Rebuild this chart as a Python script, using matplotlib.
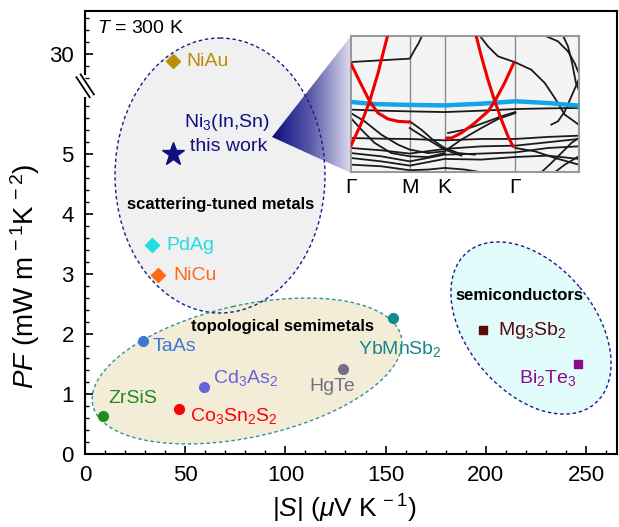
import numpy as np
import matplotlib
matplotlib.use('Agg')
import matplotlib.pyplot as plt
from matplotlib.patches import Ellipse, Polygon
from matplotlib.colors import LinearSegmentedColormap

plt.rcParams['font.family'] = 'Liberation Sans'
plt.rcParams['mathtext.fontset'] = 'custom'
plt.rcParams['mathtext.rm'] = 'Liberation Sans'
plt.rcParams['mathtext.it'] = 'Liberation Sans:italic'
plt.rcParams['mathtext.bf'] = 'Liberation Sans:bold'

# power factor vs |S| at 300 K
materials = ['NiAu', 'Ni$_3$(In,Sn)', 'PdAg', 'NiCu', 'TaAs', 'ZrSiS',
             'Co$_3$Sn$_2$S$_2$', 'Cd$_3$As$_2$', 'HgTe', 'YbMnSb$_2$',
             'Mg$_3$Sb$_2$', 'Bi$_2$Te$_3$']
seebeck = [43.9, 44.0, 33.4, 36.4, 28.8, 9.1, 47.1, 59.2, 128.7, 153.7, 198.8, 245.8]
pf = [29.4, 5.0, 3.48, 2.98, 1.89, 0.64, 0.75, 1.11, 1.42, 2.27, 2.07, 1.50]
colors = ['#b8900c', '#10107e', '#22dde0', '#ff6a14', '#3f77d2', '#1e8c1e',
          '#ff0000', '#6464d8', '#707088', '#168a88', '#5a0808', '#8c0a8c']
markers = ['D', '*', 'D', 'D', 'o', 'o', 'o', 'o', 'o', 'o', 's', 's']
msizes = [7, 17, 7, 7, 7, 7, 7, 7, 7, 7, 6, 6]

# label anchor (x, y, ha) in data units
label_pos = [(50.4, 29.4, 'left'), None, (40.8, 3.48, 'left'), (43.9, 2.98, 'left'),
             (33.9, 1.79, 'left'), (11.5, 0.93, 'left'), (52.4, 0.63, 'left'),
             (63.9, 1.27, 'left'), (123.3, 1.12, 'center'), (136.2, 1.75, 'left'),
             (206.1, 2.05, 'left'), (231.0, 1.27, 'center')]

# band structure of Ni3(In,Sn) along G-M-K-G (path fraction, energy fraction)
hs_k = [0.0, 0.259, 0.412, 0.722]
hs_labels = ['Γ', 'M', 'K', 'Γ']
flat_k = [0, .099, .259, .412, .573, .722, .865, 1.0]
flat_e = [.515, .5, .493, .49, .502, .52, .507, .488]
red_bands = [
    ([0, .039, .083, .12, .164, .208, .259], [.8, .666, .52, .434, .39, .373, .368]),
    ([0, .047, .083, .12, .142, .161], [.19, .361, .52, .727, .873, .995]),
    ([.42, .442, .485, .544, .602, .632, .675, .715], [.251, .251, .288, .361, .446, .52, .654, .8]),
    ([.551, .573, .602, .632, .661, .69, .712], [.995, .849, .678, .52, .385, .263, .19]),
]
black_bands = [
    ([0, .134, .259, .281, .298, .313], [.807, .82, .832, .898, .946, 1.0]),
    ([.566, .602, .646, .722, .792, .851, .895, .939, 1.0], [1.0, .922, .849, .805, .751, .654, .544, .422, .349]),
    ([.851, .909, .953, .982, 1.0], [1.0, .959, .885, .8, .727]),
    ([.931, .953, .971, .988, 1.0], [1.0, .922, .8, .654, .605]),
    ([1.0, .968, .939, .909, .88], [.678, .556, .446, .373, .349]),
    ([0, .134, .259, .412, .573, .722, .865, 1.0], [.459, .451, .446, .441, .451, .463, .468, .471]),
    ([0, .061, .134, .208, .259, .339, .412], [.434, .373, .276, .202, .166, .141, .154]),
    ([0, .047, .105, .178, .259, .339, .412], [.398, .312, .215, .141, .117, .112, .141]),
    ([0, .134, .259, .412, .573, .722, .865, 1.0], [.251, .246, .244, .234, .244, .244, .259, .268]),
    ([0, .134, .259, .412, .573, .722, .865, 1.0], [.178, .161, .137, .171, .19, .195, .22, .244]),
    ([0, .134, .259, .412, .573, .722, .865, 1.0], [.141, .117, .08, .129, .137, .146, .178, .19]),
    ([0, .134, .259, .412, .573, .722, .865, 1.0], [.105, .08, .049, .098, .093, .112, .122, .098]),
    ([0, .134, .259, .339, .412, .5, .573], [.056, .044, .015, .02, .032, .02, 0]),
    ([.259, .31, .368, .412, .471, .544], [.373, .312, .227, .178, .141, .129]),
    ([.259, .339, .412, .485], [.324, .239, .166, .122]),
    ([.412, .485, .573, .646, .722], [.154, .239, .324, .39, .434]),
    ([.427, .5, .602, .661, .722], [.288, .312, .373, .41, .441]),
    ([.836, .88, .924, .968, 1.0], [0, .068, .141, .215, .251]),
    ([.895, .939, 1.0], [0, .056, .117]),
    ([.722, .807, .895, 1.0], [.178, .154, .105, .056]),
]


# broken y axis: 0-6 linear, then a compressed window around 30
def fwd(y):
    y = np.asarray(y, dtype=float)
    return np.where(y <= 6, y,
                    np.where(y >= 27, 6.667 + 0.2 * (y - 30),
                             6 + (y - 6) * 0.067 / 21))


def inv(d):
    d = np.asarray(d, dtype=float)
    return np.where(d <= 6, d,
                    np.where(d >= 6.067, 30 + (d - 6.667) / 0.2,
                             6 + (d - 6) * 21 / 0.067))


fig = plt.figure(figsize=(6.19, 5.27), dpi=100)

# pixel-space layer for group ellipses, the zoom wedge and the axis break
bg = fig.add_axes([0, 0, 1, 1], zorder=0)
bg.set_xlim(0, 619)
bg.set_ylim(527, 0)
bg.axis('off')

groups = [
    ((220, 175.5), 210, 275, 0, '#f0f0f0', '#1a1a8c'),
    ((247, 371), 316, 132, -12.5, '#f3edd8', '#2a9494'),
    ((531, 328), 198, 127, 50, '#e2fbfb', '#1a1a8c'),
]
for c, w, h, ang, fc, ec in groups:
    bg.add_patch(Ellipse(c, w, h, angle=ang, facecolor=fc, edgecolor='none', zorder=0.5))
    bg.add_patch(Ellipse(c, w, h, angle=ang, fill=False, edgecolor=ec,
                         linestyle=(0, (2.5, 2)), linewidth=1.0, zorder=3))

wedge = Polygon([(272, 137), (351, 36), (351, 173)], closed=True,
                facecolor='none', edgecolor='none', transform=bg.transData)
bg.add_patch(wedge)
cmap = LinearSegmentedColormap.from_list('wedge', ['#0c0c80', '#5c5caa', '#dcdcee'])
grad = np.linspace(0, 1, 256)[None, :]
img = bg.imshow(grad, cmap=cmap, extent=(272, 351, 173, 36), aspect='auto',
                interpolation='bilinear', zorder=1)
img.set_clip_path(wedge)
bg.set_xlim(0, 619)
bg.set_ylim(527, 0)

# "\\" break marks across the left spine
for x0, y0, x1, y1 in [(76.4, 77.2, 89.7, 97.2), (80.6, 74.4, 93.9, 94.4)]:
    bg.plot([x0, x1], [y0, y1], color='black', lw=1.3, zorder=4)

# main scatter axes
ax = fig.add_axes([0.13732, 0.13852, 0.85945, 0.84061], zorder=1)
ax.patch.set_alpha(0)
ax.set_yscale('function', functions=(fwd, inv))
ax.set_xlim(0, 265.5)
ax.set_ylim(0, 33.58)

for i in range(len(materials)):
    ax.plot(seebeck[i], pf[i], marker=markers[i], ms=msizes[i], color=colors[i],
            mec=colors[i], ls='none', zorder=5)
    if label_pos[i] is not None:
        lx, ly, ha = label_pos[i]
        ax.text(lx, ly, materials[i], color=colors[i], fontsize=14, ha=ha, va='center')

ax.text(70.9, 5.52, 'Ni$_3$(In,Sn)', color=colors[1], fontsize=14, ha='center', va='center')
ax.text(71.9, 5.12, 'this work', color=colors[1], fontsize=14, ha='center', va='center')

for txt, x, y in [('scattering-tuned metals', 67.7, 4.15),
                  ('topological semimetals', 98.8, 2.12),
                  ('semiconductors', 216.8, 2.64)]:
    ax.text(x, y, txt, fontsize=12, fontweight='bold', ha='center', va='center')

ax.text(0.0226, 0.9615, '$T$ = 300 K', transform=ax.transAxes, fontsize=14,
        ha='left', va='center')

# axes frame, left spine drawn in two pieces around the break
for side in ['top', 'right', 'bottom']:
    ax.spines[side].set_linewidth(1.5)
ax.spines['left'].set_visible(False)
ytr = ax.get_yaxis_transform()
ax.plot([0, 0], [0, 5.95], transform=ytr, color='black', lw=1.5, clip_on=False,
        solid_capstyle='butt', zorder=6)
ax.plot([0, 0], [28.27, 33.58], transform=ytr, color='black', lw=1.5, clip_on=False,
        solid_capstyle='butt', zorder=6)

ax.set_xticks(np.arange(0, 251, 50))
ax.set_xticks(np.arange(0, 261, 10), minor=True)
ax.set_yticks([0, 1, 2, 3, 4, 5, 30])
ax.set_yticklabels(['0', '1', '2', '3', '4', '5', '30'])
ax.set_yticks(list(np.arange(0, 5.81, 0.2)) + [28, 29, 31, 32, 33], minor=True)
ax.tick_params(which='both', direction='in', top=False, right=False, labelsize=16)
ax.tick_params(which='major', length=6, width=1.2, pad=8)
ax.tick_params(which='minor', length=3, width=1.0)

ax.set_xlabel('|$S$| ($\\mu$V K$^{\\,-1}$)', fontsize=19)
ax.set_ylabel('$PF$ (mW m$^{\\,-1}$K$^{\\,-2}$)', fontsize=20)
ax.xaxis.set_label_coords(0.487, -0.088)
ax.yaxis.set_label_coords(-0.08, 0.40)

# band-structure inset
ins = fig.add_axes([0.56656, 0.67306, 0.36834, 0.2592], zorder=2)
ins.set_facecolor('#f4f4f4')
for s in ins.spines.values():
    s.set_color('#999999')
    s.set_linewidth(1.5)
for k in hs_k[1:]:
    ins.axvline(k, color='#8a8a8a', lw=1.0, zorder=1)
for kk, ee in black_bands:
    ins.plot(kk, ee, color='#1a1a1a', lw=1.3, zorder=2)
ins.plot(flat_k, flat_e, color='#12a4ec', lw=3.2, zorder=3)
for kk, ee in red_bands:
    ins.plot(kk, ee, color='#ee0000', lw=2.2, zorder=4, solid_capstyle='round')
ins.set_xlim(0, 1)
ins.set_ylim(0, 1)
ins.set_yticks([])
ins.set_xticks(hs_k)
ins.set_xticklabels(hs_labels)
ins.tick_params(axis='x', length=0, pad=4, labelsize=15)

fig.savefig('out.png', dpi=100)
